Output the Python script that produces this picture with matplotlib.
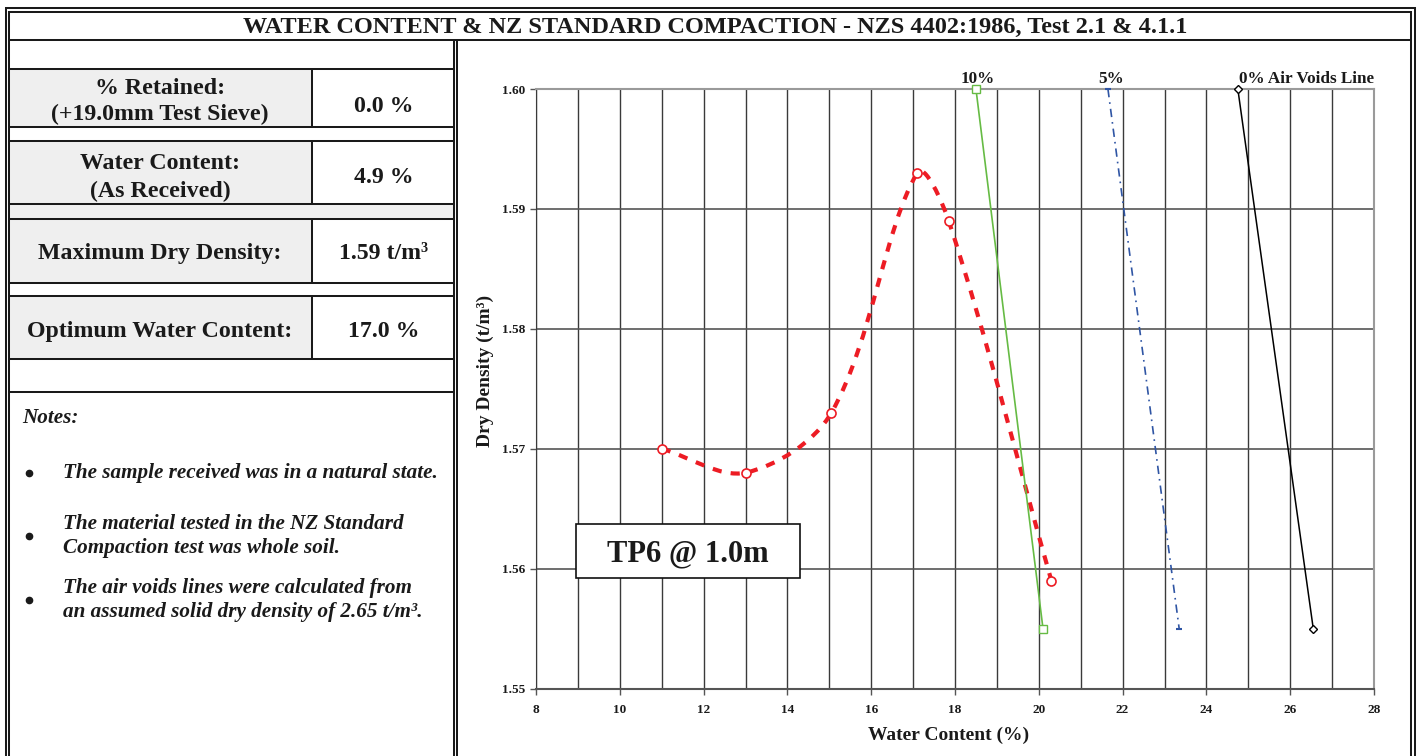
import matplotlib
matplotlib.use('Agg')
import matplotlib.pyplot as plt
import numpy as np
from matplotlib.path import Path
from matplotlib.patches import PathPatch, Rectangle

plt.rcParams['font.family'] = ['Liberation Serif', 'DejaVu Serif']
plt.rcParams['font.weight'] = 'bold'

# compaction test results
water = [11.0, 13.0, 15.05, 17.1, 17.85, 20.3]
density = [1.570, 1.568, 1.573, 1.593, 1.589, 1.559]

# air voids lines (end points)
av10_w = [18.5, 20.1]
av10_d = [1.600, 1.555]
av5_w = [21.65, 23.35]
av5_d = [1.600, 1.555]
av0_w = [24.75, 26.55]
av0_d = [1.600, 1.555]

title = 'WATER CONTENT & NZ STANDARD COMPACTION - NZS 4402:1986, Test 2.1 & 4.1.1'
summary_labels = [['% Retained:', '(+19.0mm Test Sieve)'],
                  ['Water Content:', '(As Received)'],
                  ['Maximum Dry Density:'],
                  ['Optimum Water Content:']]
summary_values = ['0.0 %', '4.9 %', '1.59 t/m\u00b3', '17.0 %']
notes = [['The sample received was in a natural state.'],
         ['The material tested in the NZ Standard', 'Compaction test was whole soil.'],
         ['The air voids lines were calculated from',
          'an assumed solid dry density of 2.65 t/m\u00b3.']]

RED = '#ed1c24'
GREEN = '#66bb44'
BLUE = '#2f55a4'
INK = '#1a1a1a'
BOLD = dict(fontweight='bold', color=INK)

W, H = 1420, 756
fig = plt.figure(figsize=(W / 100, H / 100), dpi=100)

# ---- chart ----
left, right, top, bottom = 536, 1374, 89, 688.5
ax = fig.add_axes([left / W, 1 - bottom / H, (right - left) / W, (bottom - top) / H])
ax.set_xlim(8, 28)
ax.set_ylim(1.55, 1.60)
ax.set_xticks(np.arange(8, 29, 2))
ax.set_xticks(np.arange(9, 28, 2), minor=True)
ax.set_yticks(np.arange(1.55, 1.6001, 0.01))
ax.set_yticklabels(['%.2f' % v for v in np.arange(1.55, 1.6001, 0.01)])
ax.tick_params(which='major', direction='out', length=4, width=1, color='#555555',
               labelsize=9.5, labelcolor=INK)
ax.tick_params(axis='x', pad=7.5)
ax.tick_params(axis='y', pad=4)
ax.tick_params(which='minor', length=0)
for lab in ax.get_xticklabels() + ax.get_yticklabels():
    lab.set_fontweight('bold')
ax.grid(axis='x', which='both', color='#3a3a3a', lw=1)
ax.grid(axis='y', which='major', color='#555555', lw=1.2)
ax.set_axisbelow(True)
for side in ['top', 'right']:
    ax.spines[side].set_color('#9a9a9a')
    ax.spines[side].set_linewidth(1.5)
ax.spines['left'].set_color('#3a3a3a')
ax.spines['bottom'].set_color('#555555')
ax.spines['bottom'].set_linewidth(1.5)

ax.set_xlabel('Water Content (%)', fontsize=14, **BOLD)
ax.set_ylabel('Dry Density (t/m\u00b3)', fontsize=14, **BOLD)
ax.xaxis.set_label_coords(0.492, -0.063)
ax.yaxis.set_label_coords(-0.050, 0.529)


def smooth_path(ax, xs, ys):
    # bezier through the points, tangents scaled by neighbouring chord lengths
    pts = ax.transData.transform(np.column_stack([xs, ys]))
    n = len(pts)
    verts = [pts[0]]
    for i in range(n - 1):
        p0 = pts[max(i - 1, 0)]
        p1, p2 = pts[i], pts[i + 1]
        p3 = pts[min(i + 2, n - 1)]
        d01 = np.hypot(*(p1 - p0))
        d12 = np.hypot(*(p2 - p1))
        d23 = np.hypot(*(p3 - p2))
        c1 = p1 + (p2 - p0) * d12 / (d01 + d12) / 3
        c2 = p2 - (p3 - p1) * d12 / (d12 + d23) / 3
        verts += [c1, c2, p2]
    verts = ax.transData.inverted().transform(np.array(verts))
    codes = [Path.MOVETO] + [Path.CURVE4] * (3 * (n - 1))
    return Path(verts, codes)


ax.add_patch(PathPatch(smooth_path(ax, water, density), fill=False, ec=RED, lw=3,
                       linestyle=(0, (2.2, 2.2)), capstyle='butt', zorder=3))
ax.plot(water, density, 'o', ms=6.5, mfc='white', mec=RED, mew=1.2, zorder=4)

ax.plot(av10_w, av10_d, '-', color=GREEN, lw=1.2, marker='s', ms=5.5,
        mfc='white', mec=GREEN, mew=1, clip_on=False, zorder=3)
ax.plot(av5_w, av5_d, color=BLUE, lw=1.2, linestyle=(0, (5, 3, 1, 3)),
        marker='_', ms=5, mew=1.5, clip_on=False, zorder=3)
ax.plot(av0_w, av0_d, '-', color='black', lw=1.1, marker='D', ms=4.5,
        mfc='white', mec='black', mew=1, clip_on=False, zorder=3)

ax.annotate('10%', (av10_w[0], av10_d[0]), xytext=(1, 4.5), textcoords='offset points',
            ha='center', va='baseline', fontsize=12.3, **BOLD)
ax.annotate('5%', (av5_w[0], av5_d[0]), xytext=(2, 4.5), textcoords='offset points',
            ha='center', va='baseline', fontsize=12.3, **BOLD)
ax.annotate('0% Air Voids Line', (av0_w[0], av0_d[0]), xytext=(0.5, 4.5),
            textcoords='offset points', ha='left', va='baseline', fontsize=12.3, **BOLD)

# ---- page frame and summary panel (pixel coordinates) ----
page = fig.add_axes([0, 0, 1, 1], zorder=3)
page.set_xlim(0, W)
page.set_ylim(H, 0)
page.axis('off')
page.patch.set_visible(False)


def line(xs, ys, lw=1.45):
    page.plot(xs, ys, color=INK, lw=lw, solid_capstyle='butt')


# outer double border
line([5.7, 5.7], [7, H]); line([9, 9], [10.7, H])
line([5, 1415.7], [8, 8]); line([8.3, 1411.7], [11.5, 11.5])
line([1415, 1415], [7.3, H]); line([1411, 1411], [10.8, H])
# title row
line([9, 1411], [39.7, 39.7])
page.text(715, 33, title, ha='center', va='baseline', fontsize=17.5, **BOLD)
# divider between panel and chart
line([454.2, 454.2], [39.7, H]); line([457, 457], [39.7, H])

rows = [(69, 127), (141, 204), (219, 283), (296, 359)]
page.add_patch(Rectangle((9, 204), 445, 15, fc='#f0f0f0', ec='none'))
for (y0, y1) in rows:
    page.add_patch(Rectangle((9, y0), 303, y1 - y0, fc='#efefef', ec='none'))
    line([9, 454], [y0, y0]); line([9, 454], [y1, y1])
    line([312, 312], [y0, y1])
line([9, 454], [392, 392])

label_base = [[94, 120], [169, 197], [259], [337]]
value_base = [112, 183, 259, 337]
for lines_, bases, val, vb in zip(summary_labels, label_base, summary_values, value_base):
    for s, b in zip(lines_, bases):
        page.text(160, b, s, ha='center', va='baseline', fontsize=17.2, **BOLD)
    page.text(384, vb, val, ha='center', va='baseline', fontsize=17.2, **BOLD)

page.text(22, 423, 'Notes:', ha='left', va='baseline', fontsize=15.2, style='italic', **BOLD)
note_base = [[478], [529, 553], [593, 617]]
bullet_y = [473, 536, 600]
for lines_, bases, by in zip(notes, note_base, bullet_y):
    page.plot(29, by, 'o', ms=4.5, color=INK)
    for s, b in zip(lines_, bases):
        page.text(63, b, s, ha='left', va='baseline', fontsize=15.2, style='italic', **BOLD)

# sample label box
page.add_patch(Rectangle((576, 524), 224, 54, fc='white', ec='#111111', lw=1.2))
page.text(688, 561, 'TP6 @ 1.0m', ha='center', va='baseline', fontsize=22, **BOLD)

fig.savefig('out.png', dpi=100)
